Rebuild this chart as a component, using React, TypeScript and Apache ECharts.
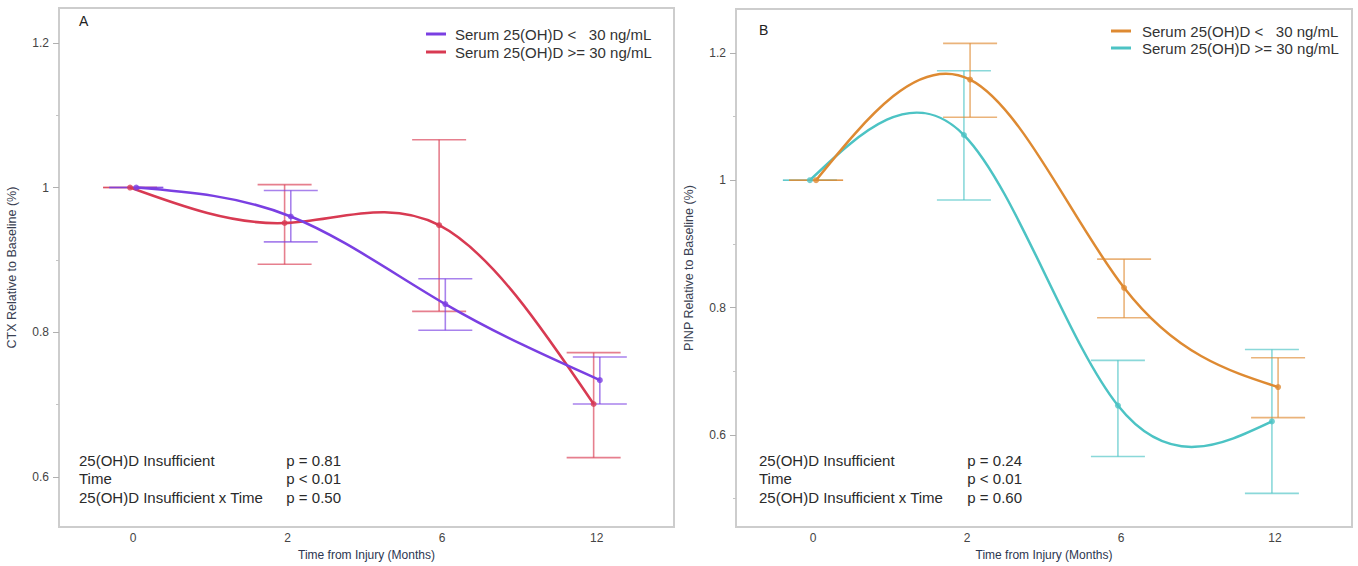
import React, { useEffect, useRef } from 'react';
import * as echarts from 'echarts';

// ---- data ----
const months = ['0', '2', '6', '12'];
const legendLabels = ['Serum 25(OH)D <   30 ng/mL', 'Serum 25(OH)D >= 30 ng/mL'];
const statsLabels = ['25(OH)D Insufficient', 'Time', '25(OH)D Insufficient x Time'];
const statsA = ['p = 0.81', 'p < 0.01', 'p = 0.50'];
const statsB = ['p = 0.24', 'p < 0.01', 'p = 0.60'];

// Panel A: CTX
const ctxLowMean = [1.0, 0.960, 0.839, 0.734];
const ctxLowLo = [1.0, 0.925, 0.803, 0.701];
const ctxLowHi = [1.0, 0.996, 0.874, 0.766];
const ctxHighMean = [1.0, 0.951, 0.948, 0.701];
const ctxHighLo = [1.0, 0.894, 0.829, 0.627];
const ctxHighHi = [1.0, 1.004, 1.066, 0.772];

// Panel B: PINP
const pinpLowMean = [1.0, 1.158, 0.831, 0.675];
const pinpLowLo = [1.0, 1.099, 0.784, 0.627];
const pinpLowHi = [1.0, 1.215, 0.876, 0.721];
const pinpHighMean = [1.0, 1.071, 0.646, 0.621];
const pinpHighLo = [1.0, 0.969, 0.566, 0.508];
const pinpHighHi = [1.0, 1.172, 0.717, 0.734];

const yMajorTicks = [0.6, 0.8, 1.0, 1.2];
const yMinorTicksA = [0.7, 0.9, 1.1];
const yMinorTicksB = [0.5, 0.7, 0.9, 1.1];

const PURPLE = '#7a3fe2';
const RED = '#d83a52';
const ORANGE = '#de8a32';
const TEAL = '#4cc3c4';
const FONT = '"Liberation Sans", Arial, Helvetica, sans-serif';

const lowOff = 0.02;
const highOff = -0.02;

// second derivatives of a natural cubic spline through equally spaced points (unit spacing)
function splineSecondDerivs(ys: number[]): number[] {
  const n = ys.length;
  const M = new Array(n).fill(0);
  if (n < 3) return M;
  const m = n - 2;
  const c: number[] = new Array(m).fill(0);
  const d: number[] = new Array(m).fill(0);
  for (let k = 0; k < m; k++) {
    const i = k + 1;
    const rhs = 6 * (ys[i - 1] - 2 * ys[i] + ys[i + 1]);
    if (k === 0) {
      c[k] = 1 / 4;
      d[k] = rhs / 4;
    } else {
      const den = 4 - c[k - 1];
      c[k] = 1 / den;
      d[k] = (rhs - d[k - 1]) / den;
    }
  }
  for (let k = m - 1; k >= 0; k--) {
    M[k + 1] = k === m - 1 ? d[k] : d[k] - c[k] * M[k + 2];
  }
  return M;
}

function curveSeries(xi: number, yi: number, off: number, mean: number[], color: string) {
  const M = splineSecondDerivs(mean);
  const n = mean.length;
  return {
    type: 'custom',
    xAxisIndex: xi,
    yAxisIndex: yi,
    silent: true,
    z: 3,
    encode: { x: 0, y: 1 },
    data: months.map((_, i) => [i + off, mean[i]]),
    renderItem: (params: any, api: any) => {
      const i = params.dataIndex;
      if (i >= n - 1) return { type: 'group', children: [] };
      const x0 = i + off;
      const x1 = i + 1 + off;
      const y0 = mean[i];
      const y1 = mean[i + 1];
      const s0 = (y1 - y0) - (2 * M[i] + M[i + 1]) / 6;
      const s1 = (y1 - y0) + (M[i] + 2 * M[i + 1]) / 6;
      const p0 = api.coord([x0, y0]);
      const p1 = api.coord([x1, y1]);
      const c0 = api.coord([x0 + 1 / 3, y0 + s0 / 3]);
      const c1 = api.coord([x1 - 1 / 3, y1 - s1 / 3]);
      return {
        type: 'bezierCurve',
        shape: { x1: p0[0], y1: p0[1], x2: p1[0], y2: p1[1], cpx1: c0[0], cpy1: c0[1], cpx2: c1[0], cpy2: c1[1] },
        style: { stroke: color, lineWidth: 2.5, fill: null },
      };
    },
  };
}

function pointSeries(xi: number, yi: number, off: number, mean: number[], color: string) {
  return {
    type: 'scatter',
    xAxisIndex: xi,
    yAxisIndex: yi,
    z: 4,
    symbol: 'circle',
    symbolSize: 6,
    itemStyle: { color },
    data: months.map((_, i) => [i + off, mean[i]]),
  };
}

function errSeries(xi: number, yi: number, off: number, lo: number[], hi: number[], color: string) {
  return {
    type: 'custom',
    xAxisIndex: xi,
    yAxisIndex: yi,
    silent: true,
    z: 2,
    encode: { x: 0, y: [1, 2] },
    data: months.map((_, i) => [i + off, lo[i], hi[i]]),
    renderItem: (params: any, api: any) => {
      const x = api.value(0);
      const pLo = api.coord([x, api.value(1)]);
      const pHi = api.coord([x, api.value(2)]);
      const w = 27;
      const style = { stroke: color, lineWidth: 1.6, opacity: 0.65 };
      return {
        type: 'group',
        children: [
          { type: 'line', shape: { x1: pLo[0], y1: pLo[1], x2: pHi[0], y2: pHi[1] }, style },
          { type: 'line', shape: { x1: pHi[0] - w, y1: pHi[1], x2: pHi[0] + w, y2: pHi[1] }, style },
          { type: 'line', shape: { x1: pLo[0] - w, y1: pLo[1], x2: pLo[0] + w, y2: pLo[1] }, style },
        ],
      };
    },
  };
}

function xAxis(grid: number, min: number, max: number) {
  return {
    type: 'value',
    gridIndex: grid,
    min,
    max,
    name: 'Time from Injury (Months)',
    nameLocation: 'middle',
    nameGap: 15,
    nameTextStyle: { color: '#2c3650', fontSize: 12, fontFamily: FONT },
    axisLine: { show: false, onZero: false },
    axisTick: { show: false },
    splitLine: { show: false },
    axisLabel: {
      customValues: [0, 1, 2, 3],
      formatter: (v: number) => months[Math.round(v)],
      color: '#444',
      fontSize: 12,
      fontFamily: FONT,
      margin: 5,
    },
  };
}

function yAxisMain(grid: number, min: number, max: number, name: string) {
  return {
    type: 'value',
    gridIndex: grid,
    min,
    max,
    position: 'left',
    name,
    nameLocation: 'middle',
    nameGap: 41,
    nameTextStyle: { color: '#3a4152', fontSize: 12.5, fontFamily: FONT },
    axisLine: { show: false, onZero: false },
    splitLine: { show: false },
    axisTick: { show: true, length: 6, customValues: yMajorTicks, lineStyle: { color: '#b0b0b0', width: 1 } },
    axisLabel: {
      customValues: yMajorTicks,
      color: '#444',
      fontSize: 12,
      fontFamily: FONT,
      margin: 10,
    },
  };
}

function yAxisMinor(grid: number, min: number, max: number, ticks: number[]) {
  return {
    type: 'value',
    gridIndex: grid,
    min,
    max,
    position: 'left',
    axisLine: { show: false, onZero: false },
    splitLine: { show: false },
    axisLabel: { show: false, customValues: ticks },
    axisTick: { show: true, length: 3, customValues: ticks, lineStyle: { color: '#c4c4c4', width: 1 } },
  };
}

function legendGraphics(x: number, textX: number, y0: number, gap: number, colors: string[]) {
  const out: any[] = [];
  colors.forEach((c, i) => {
    const y = y0 + i * gap;
    out.push({ type: 'line', shape: { x1: x, y1: y, x2: x + 20, y2: y }, style: { stroke: c, lineWidth: 3 } });
    out.push({
      type: 'text',
      x: textX,
      y,
      style: { text: legendLabels[i], fill: '#333', font: `15px ${FONT}`, verticalAlign: 'middle', align: 'left' },
    });
  });
  return out;
}

function statsGraphics(xl: number, xr: number, y0: number, gap: number, vals: string[]) {
  const out: any[] = [];
  statsLabels.forEach((t, i) => {
    const y = y0 + i * gap;
    out.push({ type: 'text', x: xl, y, style: { text: t, fill: '#2a2a2a', font: `15px ${FONT}`, verticalAlign: 'middle', align: 'left' } });
    out.push({ type: 'text', x: xr, y, style: { text: vals[i], fill: '#2a2a2a', font: `15px ${FONT}`, verticalAlign: 'middle', align: 'right' } });
  });
  return out;
}

export default function App() {
  const ref = useRef<HTMLDivElement>(null);
  useEffect(() => {
    if (!ref.current) return;
    const chart = echarts.init(ref.current, undefined, { renderer: 'svg' });
    const option: any = {
      animation: false,
      backgroundColor: '#ffffff',
      grid: [
        { left: 59, top: 8, width: 615, height: 522, show: true, borderColor: '#cdcdcd', borderWidth: 2, backgroundColor: 'transparent' },
        { left: 736, top: 9, width: 616, height: 523, show: true, borderColor: '#cdcdcd', borderWidth: 2, backgroundColor: 'transparent' },
      ],
      xAxis: [xAxis(0, -0.48, 3.5), xAxis(1, -0.5, 3.5)],
      yAxis: [
        yAxisMain(0, 0.531, 1.248, 'CTX Relative to Baseline (%)'),
        yAxisMinor(0, 0.531, 1.248, yMinorTicksA),
        yAxisMain(1, 0.455, 1.269, 'PINP Relative to Baseline (%)'),
        yAxisMinor(1, 0.455, 1.269, yMinorTicksB),
      ],
      series: [
        errSeries(0, 0, highOff, ctxHighLo, ctxHighHi, RED),
        errSeries(0, 0, lowOff, ctxLowLo, ctxLowHi, PURPLE),
        curveSeries(0, 0, highOff, ctxHighMean, RED),
        curveSeries(0, 0, lowOff, ctxLowMean, PURPLE),
        pointSeries(0, 0, highOff, ctxHighMean, RED),
        pointSeries(0, 0, lowOff, ctxLowMean, PURPLE),
        errSeries(1, 2, highOff, pinpHighLo, pinpHighHi, TEAL),
        errSeries(1, 2, lowOff, pinpLowLo, pinpLowHi, ORANGE),
        curveSeries(1, 2, highOff, pinpHighMean, TEAL),
        curveSeries(1, 2, lowOff, pinpLowMean, ORANGE),
        pointSeries(1, 2, highOff, pinpHighMean, TEAL),
        pointSeries(1, 2, lowOff, pinpLowMean, ORANGE),
      ],
      graphic: [
        { type: 'text', x: 79, y: 21, style: { text: 'A', fill: '#222', font: `14px ${FONT}`, verticalAlign: 'middle' } },
        { type: 'text', x: 759, y: 30, style: { text: 'B', fill: '#222', font: `14px ${FONT}`, verticalAlign: 'middle' } },
        ...legendGraphics(426, 455, 34, 18, [PURPLE, RED]),
        ...legendGraphics(1111, 1142, 31, 17, [ORANGE, TEAL]),
        ...statsGraphics(79, 341, 460, 18.5, statsA),
        ...statsGraphics(759, 1022, 460, 18.5, statsB),
      ],
    };
    chart.setOption(option);
    return () => chart.dispose();
  }, []);
  return <div ref={ref} style={{ position: 'absolute', left: 0, top: 0, width: 1358, height: 566 }} />;
}
